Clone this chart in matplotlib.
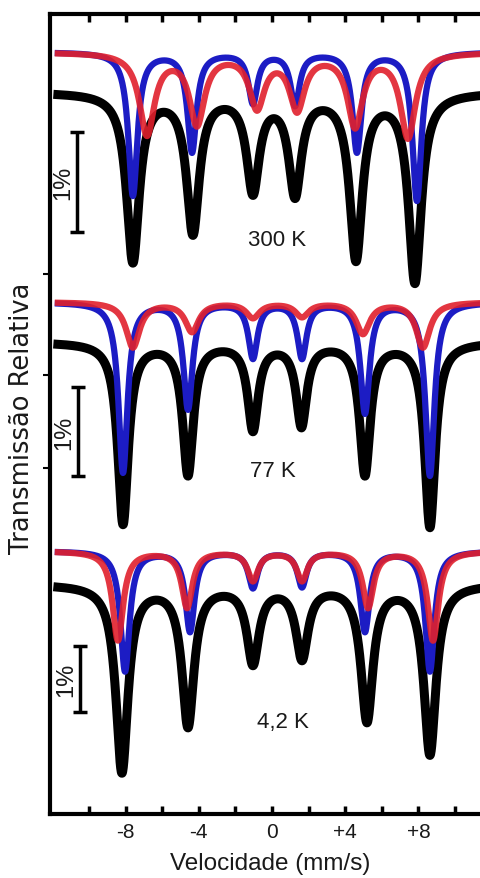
import numpy as np
import matplotlib
matplotlib.use("Agg")
import matplotlib.pyplot as plt

# Mossbauer spectra: line positions (mm/s), depths and
# baselines in arbitrary transmission units, Lorentzian half widths (mm/s)
temps = ["300 K", "77 K", "4,2 K"]

# 300 K
blue_pos_300 = [-7.60, -4.37, -1.04, 1.26, 4.64, 7.92]
blue_dep_300 = [143, 99, 50, 52, 99, 148]
red_pos_300 = [-6.83, -4.10, -0.82, 1.37, 4.54, 7.43]
red_dep_300 = [81, 70, 53, 55, 72, 84]
data_pos_300 = [-7.60, -4.32, -1.04, 1.26, 4.59, 7.81]
data_dep_300 = [168, 138, 96, 99, 164, 188]

# 77 K
blue_pos_77 = [-8.14, -4.59, -1.04, 1.64, 5.08, 8.63]
blue_dep_77 = [170, 106, 55, 55, 110, 173]
red_pos_77 = [-7.60, -4.37, -1.04, 1.64, 4.97, 8.25]
red_dep_77 = [45, 29, 15, 14, 31, 45]
data_pos_77 = [-8.14, -4.59, -1.04, 1.61, 5.08, 8.63]
data_dep_77 = [181, 131, 86, 82, 131, 184]

# 4,2 K
blue_pos_4 = [-8.03, -4.48, -1.04, 1.64, 5.08, 8.63]
blue_dep_4 = [120, 80, 36, 35, 80, 120]
red_pos_4 = [-8.42, -4.64, -1.04, 1.64, 5.25, 8.80]
red_dep_4 = [89, 56, 29, 29, 56, 89]
data_pos_4 = [-8.20, -4.59, -1.04, 1.64, 5.19, 8.63]
data_dep_4 = [187, 140, 77, 72, 135, 169]

blue_pos = [blue_pos_300, blue_pos_77, blue_pos_4]
blue_dep = [blue_dep_300, blue_dep_77, blue_dep_4]
red_pos = [red_pos_300, red_pos_77, red_pos_4]
red_dep = [red_dep_300, red_dep_77, red_dep_4]
data_pos = [data_pos_300, data_pos_77, data_pos_4]
data_dep = [data_dep_300, data_dep_77, data_dep_4]

blue_width = [0.30, 0.30, 0.30]
red_width = [0.50, 0.45, 0.35]
data_width = [0.42, 0.35, 0.40]

fit_base = [762, 512, 263]
data_base = [722, 472, 230]

# 1% scale bars (bottom, top) and label positions
bar_x = [-10.66, -10.60, -10.50]
bar_lo = [582, 338, 102]
bar_hi = [682, 427, 168]
label_x = [0.27, 0.05, 0.60]
label_y = [575, 343, 92]

v = np.linspace(-11.7, 12.0, 1500)


def sextet(base, pos, dep, g):
    y = np.full_like(v, float(base))
    for p, d in zip(pos, dep):
        y -= d / (1.0 + ((v - p) / g) ** 2)
    return y


plt.rcParams["font.family"] = ["Liberation Sans", "DejaVu Sans"]

fig = plt.figure(figsize=(4.81, 8.79), dpi=100)
ax = fig.add_axes([50 / 481, 64 / 879, 431 / 481, 800 / 879])

for i in range(3):
    ax.plot(v, sextet(data_base[i], data_pos[i], data_dep[i], data_width[i]),
            color="black", lw=6.5, zorder=2)
    ax.plot(v, sextet(fit_base[i], blue_pos[i], blue_dep[i], blue_width[i]),
            color="#1c1cc4", lw=4.5, zorder=3)
    ax.plot(v, sextet(fit_base[i], red_pos[i], red_dep[i], red_width[i]),
            color="#e0202c", lw=4.5, alpha=0.9, zorder=4)
    # scale bar
    mid = (bar_lo[i] + bar_hi[i]) / 2
    ax.errorbar([bar_x[i]], [mid], yerr=[(bar_hi[i] - bar_lo[i]) / 2],
                color="black", elinewidth=2.5, capsize=5, capthick=2.5)
    ax.text(bar_x[i] - 0.75, mid, "1%", rotation=90, ha="center", va="center",
            fontsize=17, color="#1a1a1a")
    ax.text(label_x[i], label_y[i], temps[i], ha="center", va="center",
            fontsize=16, color="#1a1a1a")

ax.set_xlim(-12.13, 11.42)
ax.set_ylim(0, 800)

ax.set_xticks([-8, -4, 0, 4, 8])
ax.set_xticklabels(["-8", "-4", "0", "+4", "+8"])
ax.set_xticks([-10, -6, -2, 2, 6, 10], minor=True)
ax.tick_params(axis="x", which="both", direction="in", top=True, length=6,
               width=2.5, labelsize=15, labelcolor="#1a1a1a", pad=6)
ax.set_yticks([346, 439, 540])
ax.set_yticklabels([])
ax.tick_params(axis="y", direction="out", length=5, width=1.5)

for s in ["left", "top", "bottom"]:
    ax.spines[s].set_linewidth(3)
ax.spines["right"].set_visible(False)

ax.set_xlabel("Velocidade (mm/s)", fontsize=17.5, color="#1a1a1a")
ax.xaxis.set_label_coords((270 - 50) / 431, (815 - 853) / 800)
ax.set_ylabel("Transmissão Relativa", fontsize=18.5, color="#1a1a1a",
              family=["DejaVu Sans"])
ax.yaxis.set_label_coords((35 - 50) / 431, (815 - 418) / 800)

fig.savefig("out.png", dpi=100)
